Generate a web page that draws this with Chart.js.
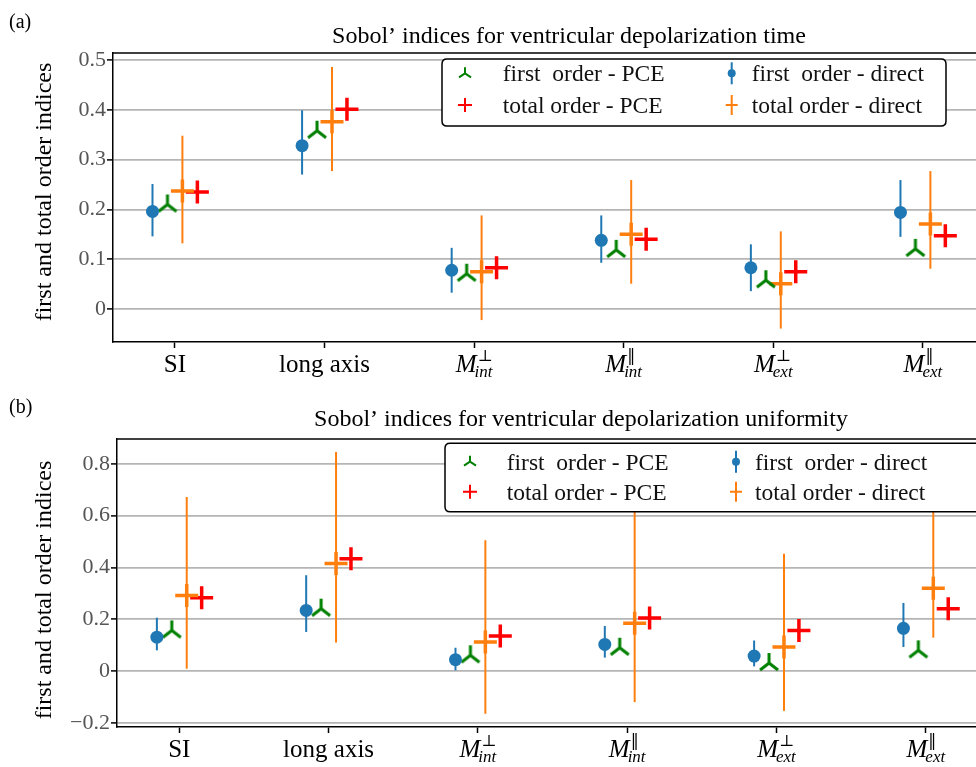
<!DOCTYPE html>
<html>
<head>
<meta charset="utf-8">
<script src="https://cdn.jsdelivr.net/npm/chart.js@4.4.0/dist/chart.umd.min.js"></script>
<style>
body { margin: 0; background: #fff; width: 976px; height: 767px; overflow: hidden; position: relative; }
.panel { position: absolute; left: 0; }
</style>
</head>
<body>
<div class="panel" style="top:0"><canvas id="chartA" width="976" height="390"></canvas></div>
<div class="panel" style="top:390px"><canvas id="chartB" width="976" height="377"></canvas></div>
<script>
// ========== DATA ==========
const catNames = ['SI', 'long axis', 'M', 'M', 'M', 'M'];
const catSub = ['', '', 'int', 'int', 'ext', 'ext'];
const catSup = ['', '', '⊥', '‖', '⊥', '‖'];

// (a) depolarization time
const yTicksA = [0, 0.1, 0.2, 0.3, 0.4, 0.5];
const firstPceA = [0.21, 0.358, 0.071, 0.119, 0.058, 0.121];
const totalPceA = [0.235, 0.401, 0.083, 0.140, 0.075, 0.147];
const firstDirA = [0.196, 0.328, 0.078, 0.138, 0.083, 0.194];
const firstDirLoA = [0.146, 0.270, 0.033, 0.093, 0.036, 0.145];
const firstDirHiA = [0.251, 0.399, 0.123, 0.188, 0.130, 0.259];
const totalDirA = [0.237, 0.376, 0.075, 0.150, 0.051, 0.171];
const totalDirLoA = [0.132, 0.277, -0.022, 0.051, -0.039, 0.081];
const totalDirHiA = [0.348, 0.486, 0.188, 0.259, 0.156, 0.277];

// (b) depolarization uniformity
const yTicksB = [-0.2, 0, 0.2, 0.4, 0.6, 0.8];
const firstPceB = [0.157, 0.241, 0.061, 0.090, 0.031, 0.080];
const totalPceB = [0.283, 0.434, 0.135, 0.205, 0.157, 0.241];
const firstDirB = [0.131, 0.234, 0.044, 0.103, 0.058, 0.165];
const firstDirLoB = [0.080, 0.151, 0.003, 0.052, 0.018, 0.093];
const firstDirHiB = [0.206, 0.370, 0.090, 0.174, 0.118, 0.263];
const totalDirB = [0.292, 0.415, 0.112, 0.185, 0.093, 0.320];
const totalDirLoB = [0.009, 0.110, -0.165, -0.120, -0.154, 0.129];
const totalDirHiB = [0.672, 0.846, 0.505, 0.700, 0.453, 0.650];

const BLUE = '#1f77b4', ORANGE = '#ff7f0e', GREEN = 'green', RED = 'red';
const SERIF = '"Liberation Serif", "Times New Roman", serif';

// ========== MARKERS ==========
function triUp(up, dx, dy, lw) {
    const s = Math.ceil(Math.max(up, dx, dy) * 2 + lw * 2);
    const c = document.createElement('canvas');
    c.width = s; c.height = s;
    const g = c.getContext('2d');
    const m = s / 2;
    g.strokeStyle = GREEN;
    g.lineWidth = lw;
    g.beginPath();
    g.moveTo(m, m); g.lineTo(m, m - up);
    g.moveTo(m, m); g.lineTo(m - dx, m + dy);
    g.moveTo(m, m); g.lineTo(m + dx, m + dy);
    g.stroke();
    return c;
}
const triMarker = triUp(10, 9, 7, 3);

// ========== PLUGINS ==========
const errorBars = {
    id: 'errorBars',
    beforeDatasetsDraw(chart) {
        const { ctx, scales: { x, y } } = chart;
        chart.data.datasets.forEach(ds => {
            if (!ds.errLo) return;
            ctx.save();
            ctx.strokeStyle = ds.borderColor || ds.backgroundColor;
            ctx.lineWidth = 2;
            ds.data.forEach((p, i) => {
                const px = x.getPixelForValue(p.x);
                ctx.beginPath();
                ctx.moveTo(px, y.getPixelForValue(ds.errLo[i]));
                ctx.lineTo(px, y.getPixelForValue(ds.errHi[i]));
                ctx.stroke();
            });
            ctx.restore();
        });
    }
};

function drawLegendMarker(ctx, kind, x, y) {
    ctx.save();
    ctx.lineWidth = 2;
    if (kind === 'tri') {
        ctx.strokeStyle = GREEN;
        ctx.beginPath();
        ctx.moveTo(x, y); ctx.lineTo(x, y - 6);
        ctx.moveTo(x, y); ctx.lineTo(x - 6, y + 4);
        ctx.moveTo(x, y); ctx.lineTo(x + 6, y + 4);
        ctx.stroke();
    } else if (kind === 'plus') {
        ctx.strokeStyle = RED;
        ctx.beginPath();
        ctx.moveTo(x - 7, y); ctx.lineTo(x + 7, y);
        ctx.moveTo(x, y - 7); ctx.lineTo(x, y + 7);
        ctx.stroke();
    } else if (kind === 'dot') {
        ctx.strokeStyle = BLUE;
        ctx.fillStyle = BLUE;
        ctx.beginPath();
        ctx.moveTo(x, y - 11); ctx.lineTo(x, y + 11);
        ctx.stroke();
        ctx.beginPath();
        ctx.arc(x, y, 4, 0, Math.PI * 2);
        ctx.fill();
    } else {
        ctx.strokeStyle = ORANGE;
        ctx.beginPath();
        ctx.moveTo(x, y - 10); ctx.lineTo(x, y + 10);
        ctx.moveTo(x - 6, y); ctx.lineTo(x + 6, y);
        ctx.stroke();
    }
    ctx.restore();
}

function makeDecor(p) {
    return {
        id: 'decor',
        afterDraw(chart) {
            const { ctx, chartArea: a, scales: { x } } = chart;
            ctx.save();

            // top frame
            ctx.strokeStyle = '#000';
            ctx.lineWidth = 1.5;
            ctx.beginPath();
            ctx.moveTo(a.left, a.top);
            ctx.lineTo(a.right, a.top);
            ctx.stroke();

            // category labels
            ctx.fillStyle = '#000';
            ctx.textBaseline = 'alphabetic';
            const base = a.bottom + 30;
            catNames.forEach((name, i) => {
                const cx = x.getPixelForValue(i);
                if (!catSub[i]) {
                    ctx.font = `25px ${SERIF}`;
                    ctx.textAlign = 'center';
                    ctx.fillText(name, cx, base);
                    return;
                }
                ctx.textAlign = 'left';
                ctx.font = `italic 25px ${SERIF}`;
                const wM = ctx.measureText(name).width;
                ctx.font = `italic 17px ${SERIF}`;
                const wSub = ctx.measureText(catSub[i]).width;
                ctx.font = `16px "DejaVu Serif", serif`;
                const wSup = ctx.measureText(catSup[i]).width;
                const total = wM + Math.max(wSub - 2, wSup + 1);
                const x0 = cx - total / 2;
                ctx.font = `italic 25px ${SERIF}`;
                ctx.fillText(name, x0, base);
                ctx.font = `italic 17px ${SERIF}`;
                ctx.fillText(catSub[i], x0 + wM - 2, base + 5);
                ctx.font = `16px "DejaVu Serif", serif`;
                ctx.fillText(catSup[i], x0 + wM + 1, base - 11);
            });

            // title, panel letter, y label
            ctx.textAlign = 'center';
            ctx.font = `24px ${SERIF}`;
            ctx.fillText(p.title, p.titleX, p.titleY);
            ctx.textAlign = 'left';
            ctx.font = `20px ${SERIF}`;
            ctx.fillText(p.letter, 9, p.letterY);
            ctx.save();
            ctx.translate(45, p.yLabelY);
            ctx.rotate(-Math.PI / 2);
            ctx.textAlign = 'center';
            ctx.textBaseline = 'middle';
            ctx.font = `24px ${SERIF}`;
            ctx.fillText('first and total order indices', 0, 0);
            ctx.restore();

            // legend
            const L = p.legend;
            const r = 5;
            ctx.beginPath();
            ctx.moveTo(L.x + r, L.y);
            ctx.lineTo(L.x + L.w - r, L.y);
            ctx.quadraticCurveTo(L.x + L.w, L.y, L.x + L.w, L.y + r);
            ctx.lineTo(L.x + L.w, L.y + L.h - r);
            ctx.quadraticCurveTo(L.x + L.w, L.y + L.h, L.x + L.w - r, L.y + L.h);
            ctx.lineTo(L.x + r, L.y + L.h);
            ctx.quadraticCurveTo(L.x, L.y + L.h, L.x, L.y + L.h - r);
            ctx.lineTo(L.x, L.y + r);
            ctx.quadraticCurveTo(L.x, L.y, L.x + r, L.y);
            ctx.closePath();
            ctx.fillStyle = '#fff';
            ctx.fill();
            ctx.strokeStyle = '#000';
            ctx.lineWidth = 1.5;
            ctx.stroke();

            const ds = chart.data.datasets;
            const entries = [
                [ds[1], 'tri', 0, 0], [ds[3], 'plus', 0, 1],
                [ds[0], 'dot', 1, 0], [ds[2], 'cross', 1, 1]
            ];
            ctx.font = `23.5px ${SERIF}`;
            ctx.fillStyle = '#111';
            ctx.textAlign = 'left';
            ctx.textBaseline = 'alphabetic';
            entries.forEach(([d, kind, col, row]) => {
                drawLegendMarker(ctx, kind, L.markX[col], L.rows[row]);
                ctx.fillText(d.label, L.textX[col], L.rows[row] + 8);
            });

            ctx.restore();
        }
    };
}

// ========== CHARTS ==========
function buildChart(canvas, p) {
    const pts = (vals, off) => vals.map((v, i) => ({ x: i + off, y: v }));
    return new Chart(canvas, {
        type: 'scatter',
        data: {
            datasets: [
                {
                    label: 'first  order - direct',
                    data: pts(p.firstDir, -0.15),
                    errLo: p.firstDirLo, errHi: p.firstDirHi,
                    pointStyle: 'circle', pointRadius: 6.5,
                    backgroundColor: BLUE, borderColor: BLUE, borderWidth: 0,
                },
                {
                    label: 'first  order - PCE',
                    data: pts(p.firstPce, -0.05),
                    pointStyle: triMarker,
                },
                {
                    label: 'total order - direct',
                    data: pts(p.totalDir, 0.05),
                    errLo: p.totalDirLo, errHi: p.totalDirHi,
                    pointStyle: 'cross', pointRadius: 11.5,
                    borderColor: ORANGE, borderWidth: 3.5,
                },
                {
                    label: 'total order - PCE',
                    data: pts(p.totalPce, 0.15),
                    pointStyle: 'cross', pointRadius: 11.5,
                    borderColor: RED, borderWidth: 3.5,
                },
            ],
        },
        options: {
            responsive: false,
            animation: false,
            events: [],
            layout: { autoPadding: false, padding: { top: p.padTop, left: 0, right: 0, bottom: 0 } },
            plugins: { legend: { display: false }, tooltip: { enabled: false } },
            scales: {
                x: {
                    type: 'linear',
                    min: p.xMin, max: p.xMax,
                    afterBuildTicks: s => { s.ticks = catNames.map((_, i) => ({ value: i })); },
                    afterFit: s => { s.height = p.xAxisHeight; },
                    ticks: { display: false },
                    grid: { drawOnChartArea: false, tickLength: 6, tickColor: '#000', tickWidth: 1.5 },
                    border: { color: '#000', width: 1.5 },
                },
                y: {
                    min: p.yMin, max: p.yMax,
                    afterBuildTicks: s => { s.ticks = p.yTicks.map(v => ({ value: v })); },
                    afterFit: s => { s.width = p.yAxisWidth; },
                    ticks: {
                        color: '#555',
                        padding: 1,
                        font: { family: SERIF, size: 22 },
                        callback: v => (v < 0 ? '−' + Math.abs(v) : String(v)),
                    },
                    grid: { color: '#b5b5b5', lineWidth: 1.8, tickColor: '#000', tickWidth: 1.5, tickLength: 6 },
                    border: { color: '#000', width: 1.5 },
                },
            },
        },
        plugins: [errorBars, makeDecor(p)],
    });
}

buildChart(document.getElementById('chartA'), {
    firstPce: firstPceA, totalPce: totalPceA,
    firstDir: firstDirA, firstDirLo: firstDirLoA, firstDirHi: firstDirHiA,
    totalDir: totalDirA, totalDirLo: totalDirLoA, totalDirHi: totalDirHiA,
    yTicks: yTicksA, yMin: -0.066, yMax: 0.514,
    xMin: -0.414, xMax: 5.355,
    padTop: 53, xAxisHeight: 48, yAxisWidth: 113,
    title: 'Sobol’ indices for ventricular depolarization time', titleX: 569, titleY: 43,
    letter: '(a)', letterY: 28, yLabelY: 192,
    legend: { x: 442, y: 59, w: 504, h: 67, rows: [73.3, 105], markX: [465, 731.7], textX: [502.7, 751.7] },
});

buildChart(document.getElementById('chartB'), {
    firstPce: firstPceB, totalPce: totalPceB,
    firstDir: firstDirB, firstDirLo: firstDirLoB, firstDirHi: firstDirHiB,
    totalDir: totalDirB, totalDirLo: totalDirLoB, totalDirHi: totalDirHiB,
    yTicks: yTicksB, yMin: -0.216, yMax: 0.896,
    xMin: -0.417, xMax: 5.336,
    padTop: 49, xAxisHeight: 40, yAxisWidth: 117,
    title: 'Sobol’ indices for ventricular depolarization uniformity', titleX: 581, titleY: 36,
    letter: '(b)', letterY: 23, yLabelY: 200,
    legend: { x: 445, y: 53.3, w: 560, h: 68.4, rows: [71.7, 101.7], markX: [470, 736], textX: [506.7, 755] },
});
</script>
</body>
</html>
